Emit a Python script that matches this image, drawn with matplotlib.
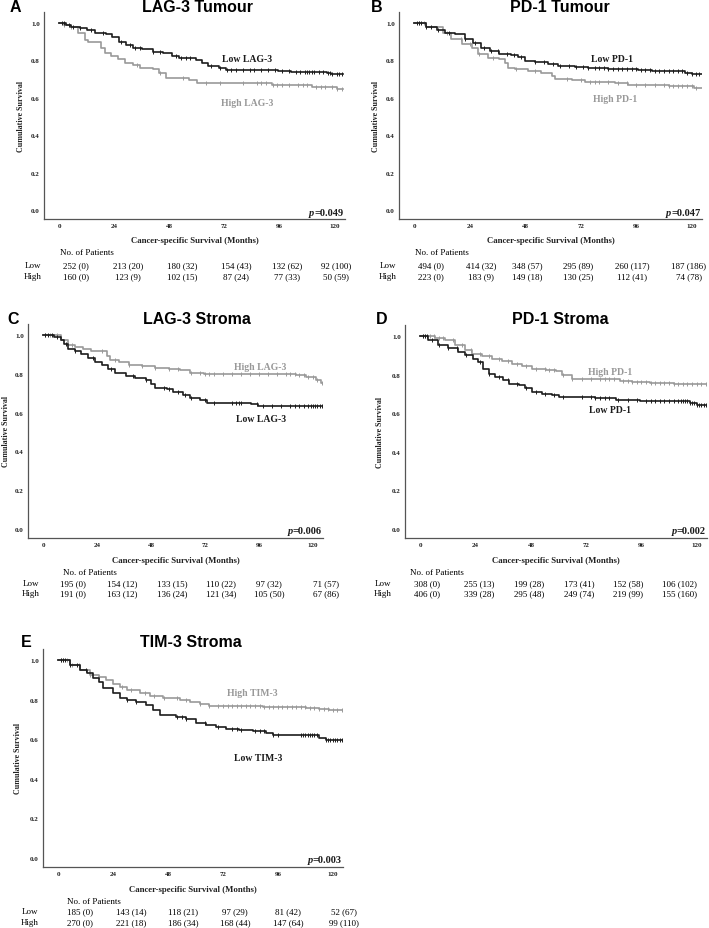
import matplotlib.pyplot as plt
import numpy as np

W, H = 709, 929

month_ticks = [0, 24, 48, 72, 96, 120]
surv_ticks = [0.0, 0.2, 0.4, 0.6, 0.8, 1.0]

# ---- A: LAG-3 Tumour
a_low_t = [0, 3, 5, 9, 12, 15.5, 20.5, 23, 26, 29, 32, 36, 41, 45, 49, 52, 59.5, 62, 65, 69.5, 72.5, 78, 87, 95.5, 101, 116.5, 118.6, 123.7]
a_low_s = [1.0, 0.99, 0.98, 0.97, 0.96, 0.947, 0.94, 0.925, 0.90, 0.88, 0.867, 0.858, 0.845, 0.837, 0.822, 0.81, 0.80, 0.783, 0.77, 0.76, 0.75, 0.748, 0.746, 0.744, 0.74, 0.733, 0.725, 0.725]
a_high_t = [0, 2, 4.6, 8, 11, 12.5, 18, 20, 22.7, 25.5, 28.4, 32, 35, 40.7, 43.6, 46.5, 52, 56.6, 60, 92.6, 110, 121, 123.7]
a_high_s = [1.0, 0.99, 0.98, 0.945, 0.91, 0.897, 0.867, 0.837, 0.822, 0.808, 0.783, 0.774, 0.76, 0.751, 0.73, 0.707, 0.703, 0.693, 0.677, 0.666, 0.659, 0.645, 0.645]
a_low_cens = [1, 2, 4, 6, 9, 14, 19, 27, 31, 33, 35, 41, 44, 51, 53, 55, 57, 66, 70, 73, 75, 77, 80, 83, 85, 88, 91, 94, 97, 100, 103, 105, 107, 108, 109, 110, 111, 113, 115, 117, 118, 119, 121, 122, 123]
a_high_cens = [2, 5, 34, 44, 54, 64, 70, 80, 86, 88, 90, 93, 95, 97, 100, 104, 106, 108, 112, 114, 116, 119, 121, 123]
a_low_n = ["252 (0)", "213 (20)", "180 (32)", "154 (43)", "132 (62)", "92 (100)"]
a_high_n = ["160 (0)", "123 (9)", "102 (15)", "87 (24)", "77 (33)", "50 (59)"]

# ---- B: PD-1 Tumour
b_low_t = [0, 5, 9.7, 13.3, 17.6, 22, 25.5, 29, 32.8, 36.4, 42, 45, 48, 52, 58, 62, 69.5, 75, 84, 90, 97, 103, 111, 117, 120, 124.4]
b_low_s = [1.0, 0.98, 0.964, 0.947, 0.938, 0.915, 0.893, 0.867, 0.849, 0.835, 0.826, 0.819, 0.796, 0.79, 0.778, 0.769, 0.764, 0.758, 0.753, 0.751, 0.748, 0.742, 0.741, 0.734, 0.725, 0.725]
b_high_t = [0, 5, 12.5, 16, 20.5, 24.8, 27.7, 32, 36.4, 39, 40.7, 43.6, 49, 55, 59.5, 61, 68, 74, 87, 92.6, 110, 121, 124.4]
b_high_s = [1.0, 0.978, 0.947, 0.915, 0.885, 0.867, 0.831, 0.813, 0.805, 0.787, 0.76, 0.751, 0.742, 0.734, 0.716, 0.698, 0.693, 0.684, 0.677, 0.67, 0.663, 0.654, 0.654]
b_low_cens = [1, 2, 3, 5, 7, 10, 15, 22, 26, 30, 33, 36, 40, 43, 46, 52, 56, 60, 63, 67, 70, 73, 75, 78, 80, 82, 84, 86, 88, 90, 92, 94, 96, 98, 100, 102, 104, 106, 108, 110, 112, 114, 116, 118, 120, 122, 123]
b_high_cens = [2, 4, 14, 20, 24, 28, 34, 44, 52, 66, 72, 76, 78, 80, 84, 88, 92, 96, 100, 104, 108, 110, 112, 114, 116, 118, 120, 122]
b_low_n = ["494 (0)", "414 (32)", "348 (57)", "295 (89)", "260 (117)", "187 (186)"]
b_high_n = ["223 (0)", "183 (9)", "149 (18)", "130 (25)", "112 (41)", "74 (78)"]

# ---- C: LAG-3 Stroma
c_low_t = [0, 4.8, 7.9, 9.4, 10.9, 14, 17, 20, 23, 26, 29, 32, 36.7, 41, 45.8, 48, 50, 55, 58, 62.4, 65.5, 70, 73, 92.7, 95.8, 127]
c_low_s = [1.0, 0.99, 0.974, 0.957, 0.928, 0.917, 0.905, 0.883, 0.862, 0.845, 0.824, 0.807, 0.79, 0.779, 0.766, 0.748, 0.728, 0.721, 0.707, 0.69, 0.676, 0.667, 0.652, 0.645, 0.634, 0.634]
c_high_t = [0, 7.9, 10.9, 14, 17.7, 21.5, 28.3, 29.8, 33.6, 38, 44, 50, 56, 61, 65.5, 71.5, 112.4, 117, 121.5, 123.8, 127]
c_high_s = [1.0, 0.974, 0.948, 0.94, 0.931, 0.917, 0.893, 0.871, 0.862, 0.848, 0.841, 0.831, 0.828, 0.819, 0.807, 0.802, 0.793, 0.784, 0.767, 0.755, 0.755]
c_low_cens = [1, 2, 4, 6, 10, 14, 22, 30, 40, 46, 54, 56, 60, 63, 66, 72, 76, 84, 86, 87, 88, 95, 98, 102, 106, 110, 112, 114, 116, 118, 119, 120, 121, 122, 123, 124, 125, 126]
c_high_cens = [1, 3, 6, 13, 26, 32, 38, 44, 50, 56, 60, 66, 70, 72, 74, 76, 80, 84, 88, 92, 96, 100, 104, 108, 110, 112, 114, 116, 118, 120, 122, 124]
c_low_n = ["195 (0)", "154 (12)", "133 (15)", "110 (22)", "97 (32)", "71 (57)"]
c_high_n = ["191 (0)", "163 (12)", "136 (24)", "121 (34)", "105 (50)", "67 (86)"]

# ---- D: PD-1 Stroma
d_low_t = [0, 3.4, 7.7, 12, 16.5, 19.4, 23, 25.2, 27.4, 29.6, 32.5, 36, 38.3, 42.7, 45.6, 48.6, 53, 57.3, 60.2, 76, 85, 90.8, 95.2, 117, 120, 125]
d_low_s = [1.0, 0.979, 0.953, 0.936, 0.918, 0.9, 0.883, 0.866, 0.831, 0.805, 0.788, 0.77, 0.753, 0.748, 0.73, 0.71, 0.701, 0.692, 0.683, 0.678, 0.671, 0.666, 0.661, 0.654, 0.643, 0.64]
d_high_t = [0, 6.3, 10.6, 15, 19.4, 22.3, 26.7, 31, 35.4, 39.8, 44, 48.6, 54.4, 58.8, 61.7, 66, 86.5, 92, 99.6, 110, 125]
d_high_s = [1.0, 0.99, 0.979, 0.953, 0.927, 0.91, 0.897, 0.883, 0.87, 0.857, 0.845, 0.831, 0.823, 0.817, 0.797, 0.779, 0.765, 0.762, 0.758, 0.753, 0.753]
d_low_cens = [1, 2, 3, 5, 8, 12, 16, 20, 26, 30, 34, 38, 42, 46, 50, 54, 58, 62, 70, 74, 76, 78, 80, 82, 86, 90, 94, 98, 100, 102, 104, 106, 108, 110, 112, 113, 114, 115, 116, 117, 118, 119, 120, 121, 122, 123, 124]
d_high_cens = [1, 2, 4, 6, 8, 10, 14, 18, 22, 26, 30, 34, 38, 42, 46, 50, 54, 56, 58, 62, 66, 70, 74, 78, 80, 82, 84, 88, 90, 92, 94, 96, 98, 100, 102, 104, 106, 108, 110, 112, 114, 116, 118, 120, 122, 124]
d_low_n = ["308 (0)", "255 (13)", "199 (28)", "173 (41)", "152 (58)", "106 (102)"]
d_high_n = ["406 (0)", "339 (28)", "295 (48)", "249 (74)", "219 (99)", "155 (160)"]

# ---- E: TIM-3 Stroma
e_low_t = [0, 5, 9.5, 12.4, 15.3, 18, 19.6, 24, 27, 30, 34, 38.5, 41.5, 44.4, 51.6, 56, 60.4, 64.7, 69, 73.5, 79, 85, 91, 93.8, 111, 114, 117, 124.4]
e_low_s = [1.0, 0.978, 0.952, 0.935, 0.91, 0.893, 0.859, 0.833, 0.808, 0.8, 0.791, 0.774, 0.748, 0.723, 0.714, 0.702, 0.685, 0.672, 0.663, 0.651, 0.646, 0.641, 0.634, 0.624, 0.621, 0.607, 0.595, 0.595]
e_high_t = [0, 5, 9.5, 13.8, 18, 21, 24, 27, 30, 35.6, 40, 45.8, 53, 57.5, 61.8, 66, 89.5, 108.4, 114, 118.5, 124.4]
e_high_s = [1.0, 0.978, 0.952, 0.927, 0.918, 0.901, 0.879, 0.867, 0.85, 0.833, 0.821, 0.811, 0.799, 0.791, 0.777, 0.77, 0.765, 0.76, 0.753, 0.748, 0.748]
e_low_cens = [1, 2, 3, 5, 8, 12, 30, 34, 52, 54, 56, 64, 70, 76, 78, 80, 86, 88, 90, 94, 96, 106, 107, 108, 109, 110, 111, 112, 113, 117, 118, 119, 120, 121, 122, 123, 124]
e_high_cens = [1, 2, 4, 6, 9, 14, 18, 28, 32, 38, 42, 46, 52, 56, 62, 66, 70, 72, 74, 76, 78, 80, 82, 84, 86, 88, 90, 92, 94, 96, 98, 100, 102, 104, 106, 108, 110, 112, 114, 116, 118, 120, 122, 124]
e_low_n = ["185 (0)", "143 (14)", "118 (21)", "97 (29)", "81 (42)", "52 (67)"]
e_high_n = ["270 (0)", "221 (18)", "186 (34)", "168 (44)", "147 (64)", "99 (110)"]

BLACK = "#1c1c1c"
GREY = "#999999"
SERIF = "Liberation Serif"
SANS = "Liberation Sans"

panels = [
    dict(letter="A", title="LAG-3 Tumour", p="=0.049", gene="LAG-3",
         low=(a_low_t, a_low_s, a_low_cens), high=(a_high_t, a_high_s, a_high_cens),
         low_n=a_low_n, high_n=a_high_n,
         ax=(44, 13, 301, 207), letter_xy=(15, 8), title_x=197, ylab_x=21,
         low_lab=(81.8, 0.808), high_lab=(81.8, 0.574),
         xlab_y=241, np_xy=(60, 253), rows_y=(266, 277), row_lab_x=33,
         cols=[76, 128, 182, 236, 287, 336]),
    dict(letter="B", title="PD-1 Tumour", p="=0.047", gene="PD-1",
         low=(b_low_t, b_low_s, b_low_cens), high=(b_high_t, b_high_s, b_high_cens),
         low_n=b_low_n, high_n=b_high_n,
         ax=(399, 13, 303, 207), letter_xy=(377, 8), title_x=560, ylab_x=376,
         low_lab=(85.4, 0.808), high_lab=(86.9, 0.595),
         xlab_y=241, np_xy=(415, 253), rows_y=(266, 277), row_lab_x=388,
         cols=[431, 481, 527, 578, 632, 689]),
    dict(letter="C", title="LAG-3 Stroma", p="=0.006", gene="LAG-3",
         low=(c_low_t, c_low_s, c_low_cens), high=(c_high_t, c_high_s, c_high_cens),
         low_n=c_low_n, high_n=c_high_n,
         ax=(28, 325, 295, 214), letter_xy=(13, 320), title_x=197, ylab_x=6,
         low_lab=(97, 0.569), high_lab=(96.5, 0.84),
         xlab_y=561, np_xy=(63, 573), rows_y=(584, 594), row_lab_x=31,
         cols=[73, 122, 172, 221, 269, 326]),
    dict(letter="D", title="PD-1 Stroma", p="=0.002", gene="PD-1",
         low=(d_low_t, d_low_s, d_low_cens), high=(d_high_t, d_high_s, d_high_cens),
         low_n=d_low_n, high_n=d_high_n,
         ax=(405, 326, 302, 213), letter_xy=(382, 320), title_x=560, ylab_x=380,
         low_lab=(82.4, 0.617), high_lab=(82.4, 0.817),
         xlab_y=561, np_xy=(410, 573), rows_y=(584, 594), row_lab_x=383,
         cols=[427, 479, 529, 579, 628, 680]),
    dict(letter="E", title="TIM-3 Stroma", p="=0.003", gene="TIM-3",
         low=(e_low_t, e_low_s, e_low_cens), high=(e_high_t, e_high_s, e_high_cens),
         low_n=e_low_n, high_n=e_high_n,
         ax=(43, 650, 300, 218), letter_xy=(26, 643), title_x=191, ylab_x=18,
         low_lab=(87.3, 0.509), high_lab=(84.8, 0.837),
         xlab_y=890, np_xy=(67, 902), rows_y=(912, 923), row_lab_x=30,
         cols=[80, 131, 183, 235, 288, 344]),
]

fig = plt.figure(figsize=(W / 100, H / 100), dpi=100)


def ftext(x, y, s, **kw):
    return fig.text(x / W, 1 - y / H, s, **kw)


def draw_curve(ax, t, s, cens, color):
    t = np.asarray(t)
    s = np.asarray(s)
    ax.step(t, s, where="post", color=color, lw=1.2)
    idx = np.searchsorted(t, cens, side="right") - 1
    ax.plot(cens, s[idx], ls="none", marker="|", ms=3.5, mew=0.7, color=color)


for p in panels:
    l, t, w, h = p["ax"]
    ax = fig.add_axes([l / W, 1 - (t + h) / H, w / W, h / H])
    draw_curve(ax, *p["high"], GREY)
    draw_curve(ax, *p["low"], BLACK)
    ax.set_xlim(-6.7, 124.5)
    ax.set_ylim(-0.048, 1.058)
    ax.set_xticks(month_ticks)
    ax.set_yticks(surv_ticks)
    ax.set_yticklabels([f"{v:.1f}" for v in surv_ticks])
    ax.tick_params(length=0, labelsize=5, pad=3, labelcolor="#222222")
    for lab in ax.get_xticklabels() + ax.get_yticklabels():
        lab.set_fontfamily(SERIF)
        lab.set_fontweight("bold")
    for side in ("top", "right"):
        ax.spines[side].set_visible(False)
    for side in ("left", "bottom"):
        ax.spines[side].set_color("#555555")
        ax.spines[side].set_linewidth(0.9)

    ax.text(*p["low_lab"], f"Low {p['gene']}", ha="center", va="center",
            fontsize=7, fontweight="bold", family=SERIF, color=BLACK)
    ax.text(*p["high_lab"], f"High {p['gene']}", ha="center", va="center",
            fontsize=7, fontweight="bold", family=SERIF, color=GREY)

    pv = ax.text(0.995, 0.012, p["p"], transform=ax.transAxes, ha="right", va="bottom",
                 fontsize=7.5, fontweight="bold", family=SERIF, color=BLACK)
    ax.annotate("p", xy=(0, 0), xycoords=pv, ha="right", va="bottom",
                fontsize=7.5, fontweight="bold", fontstyle="italic", family=SERIF, color=BLACK)

    ftext(*p["letter_xy"], p["letter"], ha="center", va="center",
          fontsize=11.5, fontweight="bold", family=SANS)
    ftext(p["title_x"], p["letter_xy"][1], p["title"], ha="center", va="center",
          fontsize=11.5, fontweight="bold", family=SANS)
    ftext(p["ylab_x"], t + h * 0.5, "Cumulative Survival", rotation=90, ha="center", va="center",
          fontsize=5.8, fontweight="bold", family=SERIF, color="#222222")
    ftext(l + w * 0.5, p["xlab_y"], "Cancer-specific Survival (Months)", ha="center", va="center",
          fontsize=6.3, fontweight="bold", family=SERIF, color="#222222")

    ftext(*p["np_xy"], "No. of Patients", ha="left", va="center", fontsize=6.5, family=SERIF)
    ftext(p["row_lab_x"], p["rows_y"][0], "Low", ha="center", va="center", fontsize=6.5, family=SERIF)
    ftext(p["row_lab_x"], p["rows_y"][1], "High", ha="center", va="center", fontsize=6.5, family=SERIF)
    for x, lo, hi in zip(p["cols"], p["low_n"], p["high_n"]):
        ftext(x, p["rows_y"][0], lo, ha="center", va="center", fontsize=6.5, family=SERIF)
        ftext(x, p["rows_y"][1], hi, ha="center", va="center", fontsize=6.5, family=SERIF)

fig.savefig("out.png", dpi=100)
